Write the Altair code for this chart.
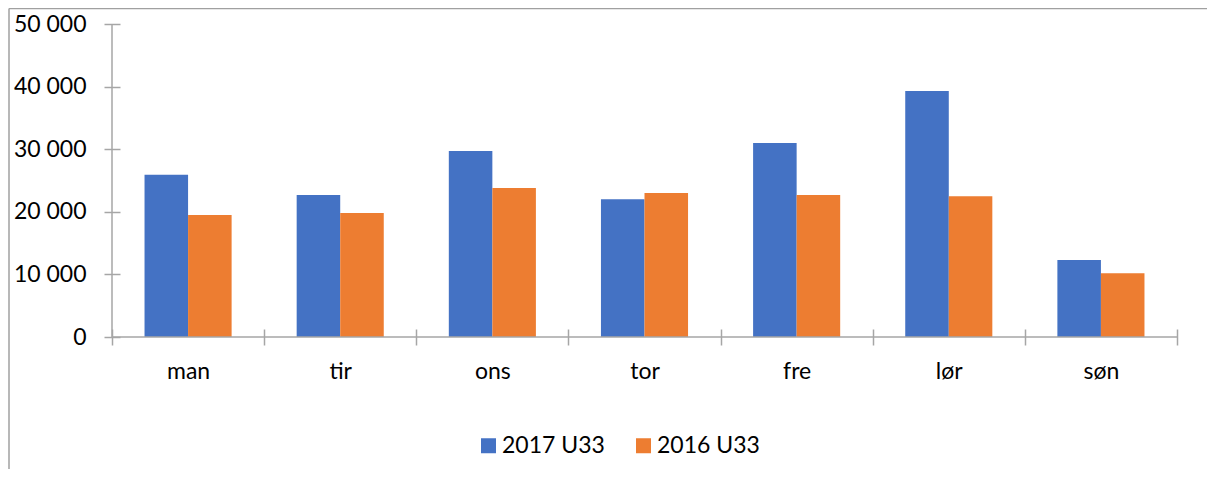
import altair as alt
import pandas as pd

days = ["man", "tir", "ons", "tor", "fre", "lør", "søn"]
series = ["2017 U33", "2016 U33"]
v2017 = [25900, 22700, 29700, 22000, 31000, 39300, 12300]
v2016 = [19500, 19800, 23800, 23000, 22700, 22500, 10200]
colors = ["#4472C4", "#ED7D31"]
y_ticks = [0, 10000, 20000, 30000, 40000, 50000]

rows = []
for d, a, b in zip(days, v2017, v2016):
    rows.append({"day": d, "series": series[0], "value": a})
    rows.append({"day": d, "series": series[1], "value": b})
df = pd.DataFrame(rows)

W, H = 1065, 313
FONT = "Lato"
FS = 23
TXT = "#000000"
AX = "#a6a6a6"
label_expr = "replace(format(datum.value, ','), regexp(',', 'g'), ' ')"

bars = alt.Chart(df).mark_bar().encode(
    x=alt.X("day:N", sort=days, scale=alt.Scale(paddingInner=0, paddingOuter=0), title=None,
            axis=alt.Axis(orient="bottom", labelAngle=0, labelFont=FONT, labelFontSize=FS,
                          labelColor=TXT, labelPadding=15, tickBand="extent",
                          offset=-8, tickSize=16, tickColor=AX, tickWidth=1.5,
                          domain=False, grid=False)),
    xOffset=alt.XOffset("series:N", sort=series,
                        scale=alt.Scale(paddingInner=0, paddingOuter=0.747)),
    y=alt.Y("value:Q", scale=alt.Scale(domain=[0, 50000], nice=False), title=None,
            axis=alt.Axis(orient="left", values=y_ticks, labelExpr=label_expr, labelFont=FONT,
                          labelFontSize=FS, labelColor=TXT, labelPadding=18,
                          offset=-8, tickSize=16, tickColor=AX, tickWidth=1.5,
                          domain=False, grid=False)),
    color=alt.Color("series:N", sort=series, scale=alt.Scale(domain=series, range=colors),
                    legend=alt.Legend(title=None, orient="none", direction="horizontal",
                                      legendX=365, legendY=410, padding=0,
                                      symbolType="square", symbolSize=225,
                                      symbolStrokeWidth=0, labelFont=FONT, labelFontSize=FS,
                                      labelColor=TXT, labelOffset=2, columnPadding=27)),
)

dummy = pd.DataFrame({"k": [0]})
y_domain = alt.Chart(dummy).mark_rule(color=AX, strokeWidth=1.5).encode(
    x=alt.value(0), y=alt.value(0), y2=alt.value(H))
x_domain = alt.Chart(dummy).mark_rule(color=AX, strokeWidth=1.5).encode(
    x=alt.value(0), x2=alt.value(W), y=alt.value(H))
frame_v = alt.Chart(dummy).mark_rule(color="#a0a0a0", strokeWidth=1.5).encode(
    x=alt.value(-103), y=alt.value(-15.5), y2=alt.value(460))
frame_h = alt.Chart(dummy).mark_rule(color="#a0a0a0", strokeWidth=1.5).encode(
    x=alt.value(-103), x2=alt.value(1095), y=alt.value(-15.5))

chart = alt.layer(bars, x_domain, y_domain, frame_v, frame_h).properties(
    width=W, height=H,
    autosize=alt.AutoSizeParams(type="none"),
    padding={"left": 104, "top": 16, "right": 30, "bottom": 132},
).configure(
    background="white",
    view=alt.ViewConfig(stroke="transparent", strokeWidth=0),
)

chart.save("out.html", embed_options={"renderer": "svg", "actions": False})
